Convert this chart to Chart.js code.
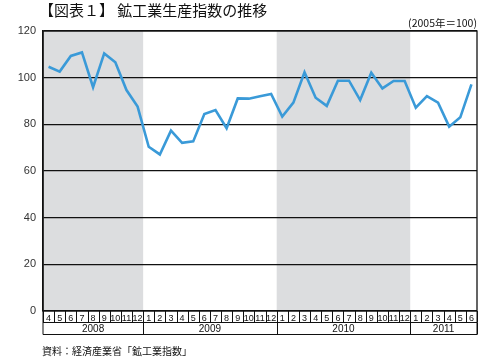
<!DOCTYPE html>
<html><head><meta charset="utf-8">
<script src="https://cdn.jsdelivr.net/npm/chart.js@4"></script>
<style>
html,body{margin:0;padding:0;background:#fff;}
#wrap{position:relative;width:500px;height:360px;font-family:"Noto Sans CJK JP",sans-serif;}
#c{position:absolute;left:0;top:0;}
.t{position:absolute;white-space:nowrap;color:#111;}
</style></head><body>
<div id="wrap">
<canvas id="c" width="500" height="360"></canvas>
<div class="t" id="title" style="left:39px;top:0px;font-size:15px;line-height:20px;">【図表１】 鉱工業生産指数の推移</div>
<div class="t" id="unit" style="right:23px;top:16px;font-size:10.5px;line-height:13px;">(2005年＝100)</div>
<div class="t" id="src" style="left:42px;top:344px;font-size:10px;line-height:14px;">資料：経済産業省「鉱工業指数」</div>
</div>
<script>
const months = ['4','5','6','7','8','9','10','11','12',
 '1','2','3','4','5','6','7','8','9','10','11','12',
 '1','2','3','4','5','6','7','8','9','10','11','12',
 '1','2','3','4','5','6'];
const years = ['2008','2009','2010','2011'];
const yearMonthCounts = [9, 12, 12, 6];
const shadedYears = ['2008','2010'];
const production = [104.7,102.6,109.3,110.8,95.9,110.4,106.6,94.7,87.6,
 70.4,67.1,77.3,72.1,72.7,84.4,86.1,78.3,91.1,91.0,92.0,93.0,
 83.3,89.3,102.3,91.4,87.9,98.7,98.7,90.4,102.1,95.4,98.6,98.6,
 87.1,92.1,89.3,79.0,83.0,97.1];
const yTicks = [0,20,40,60,80,100,120];

const yearSpans = [];
{ let s = 0; yearMonthCounts.forEach(n => { yearSpans.push([s, s + n - 1]); s += n; }); }

const frame = {
  id: 'frame',
  beforeDraw(chart) {
    const {ctx, chartArea: a, scales: {x}} = chart;
    const w = x.getPixelForValue(1) - x.getPixelForValue(0);
    ctx.save();
    ctx.fillStyle = '#dcdddf';
    years.forEach((y, i) => {
      if (!shadedYears.includes(y)) return;
      const [s, e] = yearSpans[i];
      const l = x.getPixelForValue(s) - w / 2, r = x.getPixelForValue(e) + w / 2;
      ctx.fillRect(l, a.top, r - l, a.bottom - a.top);
    });
    ctx.restore();
  },
  afterDraw(chart) {
    const {ctx, chartArea: a, scales: {x}} = chart;
    const w = x.getPixelForValue(1) - x.getPixelForValue(0);
    const r1 = a.bottom + 11.5, r2 = a.bottom + 23.5;
    ctx.save();
    ctx.strokeStyle = '#111';
    ctx.lineWidth = 1.3;
    ctx.strokeRect(a.left, a.top, a.right - a.left, a.bottom - a.top);
    ctx.lineWidth = 1;
    ctx.beginPath();
    ctx.moveTo(a.left, r1); ctx.lineTo(a.right, r1);
    ctx.moveTo(a.left, r2); ctx.lineTo(a.right, r2);
    for (let i = 0; i <= months.length; i++) {
      const px = Math.round(x.getPixelForValue(i) - w / 2) + 0.5;
      ctx.moveTo(px, a.bottom); ctx.lineTo(px, r1);
    }
    ctx.moveTo(a.left, a.bottom); ctx.lineTo(a.left, r2);
    ctx.moveTo(a.right, a.bottom); ctx.lineTo(a.right, r2);
    yearSpans.forEach(([s, e]) => {
      const px = Math.round(x.getPixelForValue(e) + w / 2) + 0.5;
      ctx.moveTo(px, r1); ctx.lineTo(px, r2);
    });
    ctx.stroke();
    ctx.restore();
  }
};

new Chart(document.getElementById('c'), {
  type: 'line',
  data: {
    labels: months,
    datasets: [{
      data: production,
      borderColor: '#3a9ad8',
      borderWidth: 2.6,
      pointRadius: 0,
      tension: 0,
      fill: false
    }]
  },
  options: {
    responsive: false,
    animation: false,
    events: [],
    layout: {padding: {top: 31, right: 23, bottom: 25, left: 0}},
    plugins: {legend: {display: false}, tooltip: {enabled: false}},
    scales: {
      x: {
        type: 'category',
        offset: true,
        grid: {display: false, drawTicks: false},
        border: {display: false},
        afterFit: s => { s.height = 12; },
        ticks: {
          autoSkip: false, maxRotation: 0, padding: 2,
          color: '#111',
          font: {family: 'Liberation Sans, Arial, sans-serif', size: 9}
        }
      },
      x2: {
        type: 'linear',
        position: 'bottom',
        min: -0.5, max: months.length - 0.5,
        grid: {display: false, drawTicks: false},
        border: {display: false},
        afterFit: s => { s.height = 12; },
        afterBuildTicks: s => { s.ticks = yearSpans.map(([a, b]) => ({value: (a + b) / 2})); },
        ticks: {
          autoSkip: false, maxRotation: 0, padding: 0,
          color: '#111',
          font: {family: 'Liberation Sans, Arial, sans-serif', size: 10},
          callback: (v, i) => years[i]
        }
      },
      y: {
        min: 0, max: 120,
        afterFit: s => { s.width = 43; },
        afterBuildTicks: s => { s.ticks = yTicks.map(v => ({value: v})); },
        grid: {color: '#111', lineWidth: 1.2, drawTicks: false},
        border: {display: true, color: '#111', width: 1.5},
        ticks: {
          padding: 7, color: '#333',
          font: {family: 'Liberation Sans, Arial, sans-serif', size: 11}
        }
      }
    }
  },
  plugins: [frame]
});
</script>
</body></html>
